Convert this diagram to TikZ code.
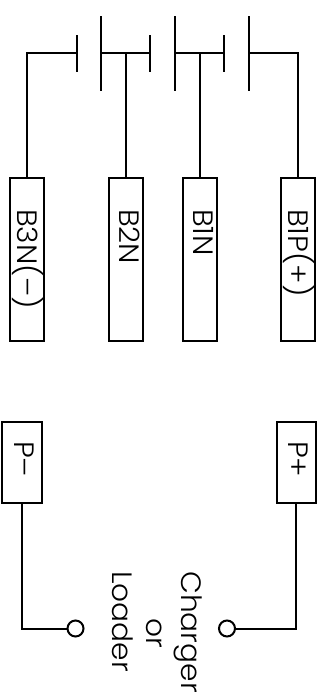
\documentclass[tikz,border=0pt]{standalone}
\usepackage{fontspec}
\setmainfont{Poppins Light}
\tikzset{
  wire/.style={line width=2pt,black,line join=miter},
  plate/.style={line width=2pt,black},
  termbox/.style={draw=black,line width=2pt,rectangle,inner sep=0pt,minimum width=34pt,minimum height=163pt},
  portbox/.style={draw=black,line width=2pt,rectangle,inner sep=0pt,minimum width=39.5pt,minimum height=81pt},
  lbl/.style={rotate=-90,anchor=base west,inner sep=0pt,font=\fontsize{28pt}{28pt}\selectfont,xscale=1.06},
  pin/.style={draw=black,line width=2pt,circle,fill=white,inner sep=0pt,minimum size=16pt},
}
\begin{document}
\begin{tikzpicture}[x=1pt,y=-1pt]
\useasboundingbox (0,0) rectangle (327,697);
% battery plates
\foreach \n/\px/\a/\b in {sa/76.5/35/72,la/101/16/91,sb/150/35/72,lb/175/16/91,sc/224/35/72,lc/248.5/16/91}{
  \coordinate (\n t) at (\px,\a);
  \coordinate (\n b) at (\px,\b);
  \coordinate (\n m) at (\px,53);
  \draw[plate] (\n t) -- (\n b);
}
% terminal boxes
\node[termbox] (b3) at (27,259.5) {};
\node[termbox] (b2) at (125.5,259.5) {};
\node[termbox] (b1) at (199.5,259.5) {};
\node[termbox] (b1p) at (298,259.5) {};
\node[portbox] (pm) at (22,462.5) {};
\node[portbox] (pp) at (296.25,462.5) {};
% pins
\node[pin] (cm) at (75.5,628.5) {};
\node[pin] (cp) at (227,628.5) {};
% wiring
\draw[wire] (b3.north) |- (sam);
\draw[wire] (lam) -- (sbm);
\draw[wire] (b2.north) -- (b2.north |- lam);
\draw[wire] (lbm) -- (scm);
\draw[wire] (b1.north) -- (b1.north |- lbm);
\draw[wire] (b1p.north) |- (lcm);
\draw[wire] (pm.south) |- (cm.west);
\draw[wire] (pp.south) |- (cp.east);
% labels
\node[lbl] (tb3) at (17,209) {B3N(–)};
\node[lbl] (tb2) at (119,209) {B2N};
\node[lbl] (tb1) at (193,209) {B1N};
\node[lbl] (tb1p) at (288,209) {B1P(+)};
\node[lbl] (tpm) at (15,441) {P–};
\node[lbl] (tpp) at (288,441) {P+};
\node[lbl] (tch) at (181,571) {Charger};
\node[lbl] (tor) at (146,618) {or};
\node[lbl] (tlo) at (112,571) {Loader};
\end{tikzpicture}
\end{document}
